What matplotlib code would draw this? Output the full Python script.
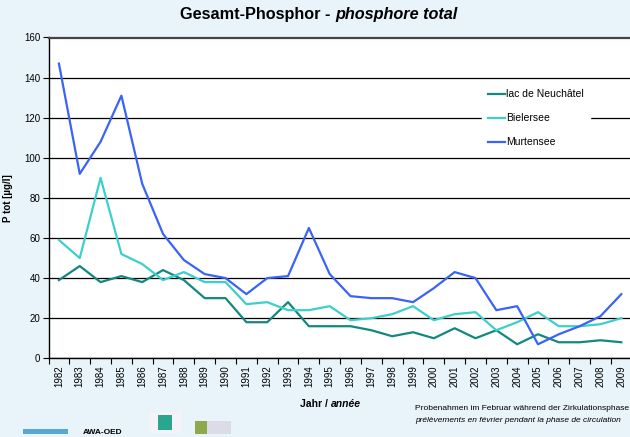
import matplotlib
matplotlib.use("Agg")
import matplotlib.pyplot as plt
from matplotlib.patches import Rectangle
import numpy as np

plt.rcParams['font.family'] = ['Liberation Sans', 'DejaVu Sans']

years = list(range(1982, 2010))
neuchatel = [39, 46, 38, 41, 38, 44, 39, 30, 30, 18, 18, 28, 16, 16, 16, 14,
             11, 13, 10, 15, 10, 14, 7, 12, 8, 8, 9, 8]
bielersee = [59, 50, 90, 52, 47, 39, 43, 38, 38, 27, 28, 24, 24, 26, 19, 20,
             22, 26, 19, 22, 23, 14, 18, 23, 16, 16, 17, 20]
murtensee = [147, 92, 108, 131, 87, 62, 49, 42, 40, 32, 40, 41, 65, 42, 31, 30,
             30, 28, 35, 43, 40, 24, 26, 7, 12, 16, 21, 32]

bg = '#e8f3fa'
W, H = 630, 437

fig = plt.figure(figsize=(6.3, 4.37), dpi=100, facecolor=bg)

# plot area in pixel coordinates of the figure
left, right, top, bottom = 48.5, 640, 37.5, 358.3
ax = fig.add_axes([left / W, 1 - bottom / H, (right - left) / W, (bottom - top) / H])
ax.set_facecolor('white')

x = np.arange(len(years))
ax.plot(x, neuchatel, color='#11897f', lw=1.6, label='lac de Neuchâtel')
ax.plot(x, bielersee, color='#3ccfcc', lw=1.6, label='Bielersee')
ax.plot(x, murtensee, color='#3a63f7', lw=1.6, label='Murtensee')

ax.set_ylim(0, 160)
ax.set_yticks(range(0, 161, 20))
ax.yaxis.grid(True, color='black', lw=0.9)
ax.set_axisbelow(True)
ax.set_xlim(-0.5, -0.5 + (right - left) / 20.83)

ax.set_xticks(x)
ax.set_xticklabels([str(y) for y in years], rotation=90, fontsize=7)
ax.set_xticks(np.arange(-0.5, len(years), 1), minor=True)
ax.tick_params(axis='x', which='major', length=0, pad=5)
ax.tick_params(axis='x', which='minor', length=4, width=0.8, direction='out')
ax.tick_params(axis='y', length=4, width=0.8, labelsize=7, pad=2)

ax.spines['right'].set_visible(False)
for s in ['left', 'bottom']:
    ax.spines[s].set_linewidth(1.0)
ax.spines['top'].set_color('#444444')
ax.spines['top'].set_linewidth(1.6)

ax.set_ylabel('P tot [µg/l]', fontsize=7, fontweight='bold', labelpad=8)

leg = ax.legend(loc='upper left', bbox_to_anchor=(482 / W, 1 - 83 / H),
                bbox_transform=fig.transFigure, borderaxespad=0, fontsize=7.5,
                frameon=True, fancybox=False, edgecolor='white', facecolor='white',
                framealpha=1, handlelength=1.6, handletextpad=0.1,
                labelspacing=1.35, borderpad=0.6)

# title
fig.text(335 / W, 1 - 15 / H, 'Gesamt-Phosphor - ', ha='right', va='center',
         fontsize=11.7, fontweight='bold')
fig.text(335 / W, 1 - 15 / H, 'phosphore total', ha='left', va='center',
         fontsize=11.7, fontweight='bold', style='italic')

# x axis title
fig.text(331 / W, 1 - 404 / H, 'Jahr / ', ha='right', va='center',
         fontsize=7.5, fontweight='bold')
fig.text(331 / W, 1 - 404 / H, 'année', ha='left', va='center',
         fontsize=7.5, fontweight='bold', style='italic')

# sampling note
fig.text(415 / W, 1 - 409 / H, 'Probenahmen im Februar während der Zirkulationsphase',
         ha='left', va='center', fontsize=6)
fig.text(415 / W, 1 - 421 / H, 'prélèvements en février pendant la phase de circulation',
         ha='left', va='center', fontsize=6, style='italic')

# logos
fig.text(83 / W, 1 - 433 / H, 'AWA-OED', ha='left', va='center', fontsize=6,
         fontweight='bold')
fig.add_artist(Rectangle((23 / W, 1 - 434 / H), 45 / W, 5 / H,
                         transform=fig.transFigure, color='#5aa6d6', lw=0))
fig.add_artist(Rectangle((150 / W, 1 - 433 / H), 31 / W, 21 / H,
                         transform=fig.transFigure, color='#f4f4f8', lw=0))
fig.add_artist(Rectangle((158 / W, 1 - 430 / H), 14 / W, 15 / H,
                         transform=fig.transFigure, color='#2aa58e', lw=0))
fig.add_artist(Rectangle((195 / W, 1 - 434 / H), 36 / W, 13 / H,
                         transform=fig.transFigure, color='#dcdce8', lw=0))
fig.add_artist(Rectangle((195 / W, 1 - 434 / H), 12 / W, 13 / H,
                         transform=fig.transFigure, color='#8fa84a', lw=0))

fig.savefig('out.png', dpi=100, facecolor=bg)
